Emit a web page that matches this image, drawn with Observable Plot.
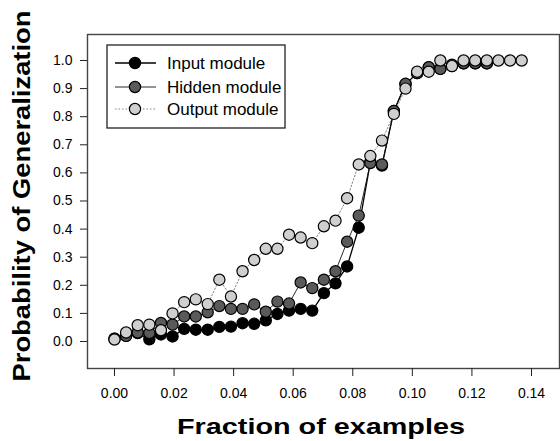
<!DOCTYPE html>
<html><head><meta charset="utf-8">
<script src="https://cdn.jsdelivr.net/npm/d3@7"></script>
<script src="https://cdn.jsdelivr.net/npm/@observablehq/plot@0.6"></script>
<style>
html,body{margin:0;padding:0;background:#fff;}
#chart{position:relative;width:560px;height:441px;}
</style></head><body><div id="chart"></div>
<script>
// Fraction of examples (x) for each sample
const fraction = [0.0000,0.0039,0.0078,0.0117,0.0156,0.0195,0.0234,0.0273,0.0313,0.0352,
  0.0391,0.0430,0.0469,0.0508,0.0547,0.0586,0.0625,0.0664,0.0703,0.0742,
  0.0781,0.0820,0.0859,0.0898,0.0938,0.0977,0.1016,0.1055,0.1094,0.1133,
  0.1172,0.1211,0.1250,0.1289,0.1328,0.1367];

// Probability of generalization for each module
const inputModule = [0.010,0.020,0.030,0.008,0.025,0.018,0.045,0.042,0.042,0.052,
  0.053,0.065,0.063,0.075,0.098,0.110,0.116,0.110,0.172,0.207,
  0.267,0.405,0.638,0.626,0.820,0.915,0.955,0.975,0.970,0.980,
  0.990,0.990,0.990];
const hiddenModule = [0.010,0.020,0.032,0.030,0.066,0.060,0.089,0.089,0.104,0.126,
  0.116,0.116,0.132,0.106,0.142,0.135,0.210,0.190,0.220,0.250,
  0.355,0.448,0.635,0.630,0.820,0.917,0.955,0.976,0.970,0.985,
  0.990,0.990,0.990];
const outputModule = [0.007,0.032,0.058,0.060,0.040,0.100,0.140,0.150,0.133,0.220,
  0.160,0.250,0.290,0.330,0.330,0.380,0.370,0.350,0.410,0.430,
  0.510,0.630,0.660,0.715,0.810,0.900,0.960,0.960,1.000,0.980,
  1.000,1.000,1.000,1.000,1.000,1.000];

const seriesNames = ["Input module", "Hidden module", "Output module"];
const xTicks = [0.00,0.02,0.04,0.06,0.08,0.10,0.12,0.14];
const yTicks = [0.0,0.1,0.2,0.3,0.4,0.5,0.6,0.7,0.8,0.9,1.0];
const xTitle = "Fraction of examples";
const yTitle = "Probability of Generalization";

const toRows = (vals, name) => vals.map((v, i) => ({x: fraction[i], y: v, series: name}));
const inputRows = toRows(inputModule, seriesNames[0]);
const hiddenRows = toRows(hiddenModule, seriesNames[1]);
const outputRows = toRows(outputModule, seriesNames[2]);

const styles = {
  [seriesNames[0]]: {fill:"#000", line:"#000", lw:1.3, dash:null},
  [seriesNames[1]]: {fill:"#5a5a5a", line:"#111", lw:0.9, dash:null},
  [seriesNames[2]]: {fill:"#cfcfcf", line:"#777", lw:0.9, dash:"1.5,2"}
};
const R = 5.6;
const font = "'Liberation Sans', Arial, Helvetica, sans-serif";

const plot = Plot.plot({
  width: 560, height: 441,
  marginLeft: 87, marginRight: 1, marginTop: 34, marginBottom: 73,
  style: {fontFamily: font, background: "#fff", color: "#000"},
  x: {domain: [-0.00906, 0.1494]},
  y: {domain: [-0.0961, 1.0925]},
  marks: [
    Plot.frame({stroke: "#444", strokeWidth: 1.4}),
    Plot.axisX({ticks: xTicks, tickFormat: d3.format(".2f"), tickSize: 8, tickPadding: 12, fontSize: 14, label: null, stroke:"#222"}),
    Plot.axisY({ticks: yTicks, tickFormat: d3.format(".1f"), tickSize: 7, tickPadding: 8, fontSize: 14, label: null, stroke:"#222"}),
    ...[inputRows, hiddenRows, outputRows].map((rows, i) => {
      const s = styles[seriesNames[i]];
      return Plot.line(rows, {x: "x", y: "y", stroke: s.line, strokeWidth: s.lw, strokeDasharray: s.dash});
    }),
    ...[inputRows, hiddenRows, outputRows].map((rows, i) => {
      const s = styles[seriesNames[i]];
      return Plot.dot(rows, {x: "x", y: "y", r: R, fill: s.fill, stroke: "#000", strokeWidth: 1.2});
    })
  ]
});
document.getElementById("chart").appendChild(plot);

// Axis titles and legend (annotation layer)
const svg = d3.select(plot);
svg.append("text")
  .attr("x", 321).attr("y", 434)
  .attr("text-anchor", "middle")
  .attr("font-family", font).attr("font-weight", "bold").attr("font-size", 22)
  .attr("textLength", 288).attr("lengthAdjust", "spacingAndGlyphs")
  .text(xTitle);
svg.append("text")
  .attr("transform", "translate(30,196) rotate(-90)")
  .attr("text-anchor", "middle")
  .attr("font-family", font).attr("font-weight", "bold").attr("font-size", 23)
  .attr("textLength", 371).attr("lengthAdjust", "spacingAndGlyphs")
  .text(yTitle);

const lg = svg.append("g");
lg.append("rect").attr("x", 107).attr("y", 45).attr("width", 178).attr("height", 83)
  .attr("fill", "#fff").attr("stroke", "#222").attr("stroke-width", 1.3);
const rowY = [63, 87, 109];
seriesNames.forEach((name, i) => {
  const s = styles[name];
  lg.append("line").attr("x1", 115).attr("x2", 156).attr("y1", rowY[i]).attr("y2", rowY[i])
    .attr("stroke", s.line).attr("stroke-width", s.lw).attr("stroke-dasharray", s.dash);
  lg.append("circle").attr("cx", 135).attr("cy", rowY[i]).attr("r", R)
    .attr("fill", s.fill).attr("stroke", "#000").attr("stroke-width", 1.2);
  lg.append("text").attr("x", 167).attr("y", rowY[i]).attr("dy", "0.36em")
    .attr("text-anchor", "start")
    .attr("font-family", font).attr("font-size", 17).text(name);
});
</script></body></html>
